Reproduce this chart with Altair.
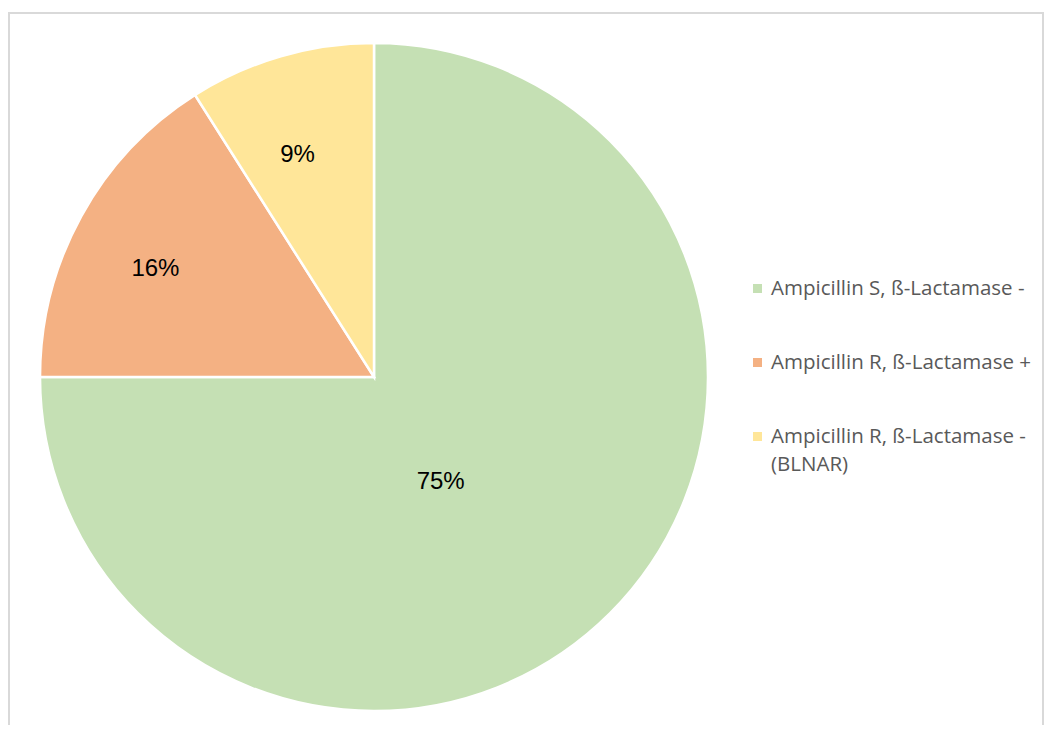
import altair as alt
import pandas as pd

categories = [
    "Ampicillin S, ß-Lactamase -",
    "Ampicillin R, ß-Lactamase +",
    "Ampicillin R, ß-Lactamase - (BLNAR)",
]
legend_labels = [
    "Ampicillin S, ß-Lactamase -",
    "Ampicillin R, ß-Lactamase +",
    "Ampicillin R, ß-Lactamase -\n(BLNAR)",
]
values = [75, 16, 9]
pct_labels = ["75%", "16%", "9%"]
colors = ["#C5E0B4", "#F4B183", "#FFE699"]

df = pd.DataFrame({
    "category": categories,
    "legend": legend_labels,
    "value": values,
    "pct": pct_labels,
    "order": list(range(len(categories))),
})

color_scale = alt.Scale(domain=categories, range=colors)
CX, CY = 365, 364

base = alt.Chart(df).encode(
    theta=alt.Theta("value:Q", stack=True),
    order=alt.Order("order:Q"),
)

pie = base.mark_arc(outerRadius=334, stroke="white", strokeWidth=2.5).encode(
    color=alt.Color("category:N", scale=color_scale, legend=None),
    x=alt.value(CX), y=alt.value(CY),
)

small_lbl = base.mark_text(
    radius=238, font="Liberation Sans", fontSize=24, color="#000000",
    align="center", baseline="middle", dx=-10, dy=7,
).encode(
    text=alt.condition(alt.datum.value < 50, "pct:N", alt.value("")),
    x=alt.value(CX), y=alt.value(CY),
)

big_lbl = base.mark_text(
    radius=124, font="Liberation Sans", fontSize=24, color="#000000",
    align="center", baseline="middle", dx=-21, dy=17,
).encode(
    text=alt.condition(alt.datum.value >= 50, "pct:N", alt.value("")),
    x=alt.value(CX), y=alt.value(CY),
)

ypos = alt.Scale(domain=[0, 2], range=[275.5, 423.5])

leg_sq = alt.Chart(df).mark_square(size=81, opacity=1).encode(
    x=alt.value(748.5),
    y=alt.Y("order:Q", scale=ypos, axis=None),
    color=alt.Color("category:N", scale=color_scale, legend=None),
)

leg_txt = alt.Chart(df).mark_text(
    align="left", baseline="middle", font="Open Sans", fontSize=20.5,
    color="#595959", lineBreak="\n", lineHeight=28,
).encode(
    x=alt.value(762),
    y=alt.Y("order:Q", scale=ypos, axis=None),
    text="legend:N",
)

frame = alt.Chart(df).mark_rect(
    fill=None, stroke="#D9D9D9", strokeWidth=2
).encode(
    x=alt.value(0), x2=alt.value(1034), y=alt.value(0), y2=alt.value(780),
)

chart = alt.layer(frame, pie, small_lbl, big_lbl, leg_sq, leg_txt).properties(
    width=1035, height=712,
    autosize=alt.AutoSizeParams(type="none"),
    padding={"left": 1, "top": 5, "right": 0, "bottom": 0},
).configure_view(stroke=None)

chart.save("out.html", embed_options={"renderer": "svg", "actions": False})
